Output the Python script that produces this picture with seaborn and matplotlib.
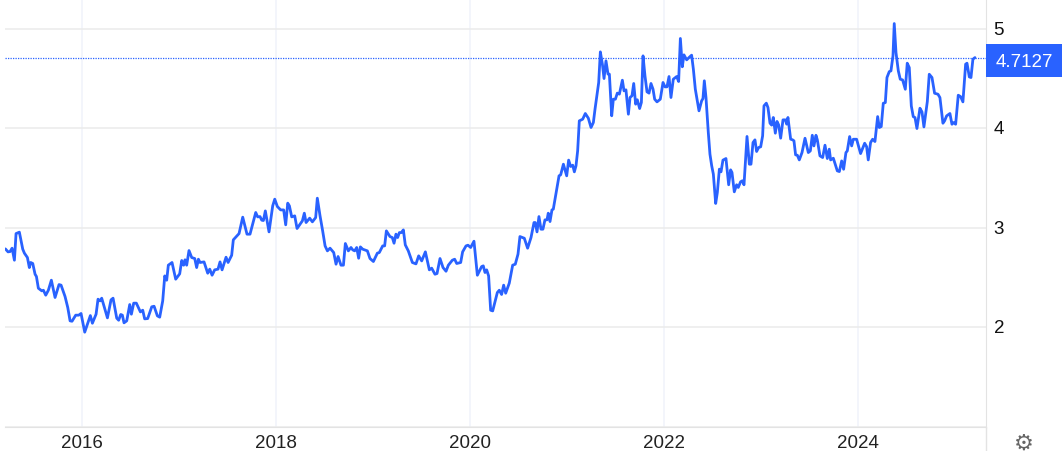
import matplotlib
matplotlib.use("Agg")
import matplotlib.pyplot as plt
from matplotlib.lines import Line2D
from matplotlib.transforms import ScaledTranslation
import pandas as pd
import seaborn as sns

sns.set_style("white")
plt.rcParams['font.family'] = ['Liberation Sans', 'DejaVu Sans']

# decimal year of each reading
years = [
    2015.210, 2015.237, 2015.258, 2015.279, 2015.303, 2015.320, 2015.354, 2015.389, 2015.406, 2015.437,
    2015.457, 2015.471, 2015.492, 2015.516, 2015.530, 2015.550, 2015.585, 2015.602, 2015.626, 2015.653,
    2015.684, 2015.722, 2015.763, 2015.784, 2015.825, 2015.853, 2015.877, 2015.897, 2015.935, 2015.966,
    2015.990, 2016.028, 2016.086, 2016.107, 2016.145, 2016.165, 2016.186, 2016.203, 2016.262, 2016.299,
    2016.320, 2016.358, 2016.378, 2016.399, 2016.416, 2016.433, 2016.461, 2016.492, 2016.509, 2016.533,
    2016.560, 2016.602, 2016.626, 2016.646, 2016.677, 2016.719, 2016.743, 2016.777, 2016.801, 2016.832,
    2016.853, 2016.873, 2016.890, 2016.928, 2016.966, 2017.007, 2017.028, 2017.048, 2017.062, 2017.079,
    2017.103, 2017.131, 2017.162, 2017.182, 2017.200, 2017.217, 2017.258, 2017.296, 2017.317, 2017.341,
    2017.368, 2017.402, 2017.423, 2017.444, 2017.485, 2017.506, 2017.543, 2017.560, 2017.619, 2017.657,
    2017.701, 2017.732, 2017.791, 2017.811, 2017.835, 2017.853, 2017.870, 2017.890, 2017.928, 2017.966,
    2017.987, 2018.014, 2018.048, 2018.079, 2018.100, 2018.121, 2018.138, 2018.162, 2018.193, 2018.217,
    2018.272, 2018.292, 2018.310, 2018.347, 2018.375, 2018.409, 2018.426, 2018.454, 2018.481, 2018.506,
    2018.530, 2018.557, 2018.595, 2018.619, 2018.640, 2018.670, 2018.695, 2018.715, 2018.746, 2018.773,
    2018.791, 2018.811, 2018.832, 2018.852, 2018.870, 2018.894, 2018.942, 2018.969, 2019.004, 2019.045,
    2019.065, 2019.100, 2019.120, 2019.138, 2019.175, 2019.199, 2019.217, 2019.237, 2019.254, 2019.272,
    2019.292, 2019.313, 2019.333, 2019.364, 2019.406, 2019.443, 2019.471, 2019.502, 2019.540, 2019.581,
    2019.605, 2019.639, 2019.660, 2019.691, 2019.722, 2019.753, 2019.777, 2019.818, 2019.842, 2019.863,
    2019.904, 2019.924, 2019.959, 2019.979, 2020.007, 2020.041, 2020.076, 2020.120, 2020.137, 2020.155,
    2020.172, 2020.192, 2020.213, 2020.234, 2020.282, 2020.302, 2020.326, 2020.347, 2020.368, 2020.405,
    2020.440, 2020.467, 2020.495, 2020.515, 2020.560, 2020.594, 2020.629, 2020.660, 2020.673, 2020.691,
    2020.711, 2020.732, 2020.752, 2020.773, 2020.794, 2020.807, 2020.825, 2020.845, 2020.859, 2020.883,
    2020.918, 2020.935, 2020.963, 2020.997, 2021.017, 2021.038, 2021.059, 2021.076, 2021.093, 2021.110,
    2021.127, 2021.162, 2021.189, 2021.220, 2021.248, 2021.272, 2021.289, 2021.313, 2021.327, 2021.344,
    2021.365, 2021.382, 2021.402, 2021.423, 2021.437, 2021.461, 2021.478, 2021.499, 2021.519, 2021.540,
    2021.571, 2021.588, 2021.608, 2021.633, 2021.650, 2021.670, 2021.688, 2021.708, 2021.725, 2021.749,
    2021.767, 2021.784, 2021.804, 2021.825, 2021.846, 2021.866, 2021.887, 2021.904, 2021.928, 2021.962,
    2021.990, 2022.011, 2022.031, 2022.052, 2022.072, 2022.096, 2022.131, 2022.151, 2022.169, 2022.189,
    2022.206, 2022.234, 2022.258, 2022.285, 2022.303, 2022.323, 2022.361, 2022.388, 2022.402, 2022.416,
    2022.433, 2022.457, 2022.474, 2022.492, 2022.509, 2022.533, 2022.550, 2022.571, 2022.588, 2022.608,
    2022.639, 2022.667, 2022.687, 2022.701, 2022.725, 2022.749, 2022.766, 2022.790, 2022.808, 2022.825,
    2022.856, 2022.880, 2022.897, 2022.918, 2022.938, 2022.955, 2022.976, 2022.997, 2023.017, 2023.031,
    2023.055, 2023.072, 2023.093, 2023.110, 2023.127, 2023.148, 2023.165, 2023.182, 2023.203, 2023.227,
    2023.251, 2023.265, 2023.278, 2023.306, 2023.326, 2023.340, 2023.357, 2023.375, 2023.395, 2023.423,
    2023.454, 2023.488, 2023.509, 2023.529, 2023.546, 2023.567, 2023.581, 2023.608, 2023.636, 2023.660,
    2023.684, 2023.704, 2023.718, 2023.746, 2023.787, 2023.808, 2023.832, 2023.852, 2023.876, 2023.890,
    2023.914, 2023.935, 2023.952, 2023.986, 2024.027, 2024.069, 2024.089, 2024.106, 2024.130, 2024.151,
    2024.175, 2024.203, 2024.220, 2024.240, 2024.261, 2024.282, 2024.299, 2024.323, 2024.340, 2024.361,
    2024.374, 2024.392, 2024.416, 2024.436, 2024.460, 2024.488, 2024.508, 2024.529, 2024.550, 2024.570,
    2024.588, 2024.608, 2024.639, 2024.660, 2024.680, 2024.715, 2024.735, 2024.763, 2024.790, 2024.825,
    2024.845, 2024.876, 2024.893, 2024.914, 2024.948, 2024.969, 2024.986, 2025.007, 2025.034, 2025.058,
    2025.082, 2025.110, 2025.124, 2025.148, 2025.165, 2025.185, 2025.206,
]
values = [
    2.788, 2.758, 2.761, 2.795, 2.674, 2.942, 2.956, 2.785, 2.745, 2.701,
    2.600, 2.651, 2.641, 2.533, 2.510, 2.392, 2.366, 2.372, 2.322, 2.372,
    2.473, 2.299, 2.429, 2.423, 2.309, 2.198, 2.064, 2.060, 2.121, 2.121,
    2.138, 1.950, 2.117, 2.040, 2.131, 2.282, 2.265, 2.292, 2.094, 2.275,
    2.292, 2.091, 2.070, 2.128, 2.121, 2.044, 2.064, 2.228, 2.131, 2.242,
    2.242, 2.154, 2.171, 2.084, 2.087, 2.205, 2.211, 2.114, 2.101, 2.265,
    2.516, 2.473, 2.624, 2.651, 2.483, 2.537, 2.671, 2.624, 2.678, 2.624,
    2.771, 2.701, 2.691, 2.600, 2.684, 2.651, 2.657, 2.543, 2.584, 2.523,
    2.577, 2.584, 2.657, 2.577, 2.704, 2.651, 2.724, 2.879, 2.942, 3.107,
    2.936, 2.936, 3.154, 3.110, 3.113, 3.077, 3.073, 3.170, 2.959, 3.221,
    3.288, 3.214, 3.180, 3.180, 3.030, 3.248, 3.221, 3.110, 3.120, 2.993,
    3.070, 3.147, 3.053, 3.097, 3.060, 3.103, 3.298, 3.120, 2.969, 2.818,
    2.768, 2.795, 2.751, 2.634, 2.711, 2.624, 2.624, 2.842, 2.768, 2.802,
    2.778, 2.768, 2.802, 2.694, 2.808, 2.785, 2.768, 2.691, 2.661, 2.745,
    2.751, 2.818, 2.818, 2.969, 2.912, 2.902, 2.845, 2.936, 2.902, 2.952,
    2.952, 2.979, 2.828, 2.768, 2.651, 2.637, 2.718, 2.667, 2.758, 2.577,
    2.594, 2.533, 2.540, 2.691, 2.600, 2.563, 2.624, 2.674, 2.684, 2.641,
    2.651, 2.758, 2.818, 2.825, 2.802, 2.865, 2.523, 2.610, 2.617, 2.550,
    2.577, 2.516, 2.171, 2.164, 2.349, 2.372, 2.329, 2.423, 2.342, 2.443,
    2.624, 2.634, 2.735, 2.912, 2.895, 2.795, 2.902, 3.053, 3.053, 2.959,
    3.113, 2.986, 2.986, 3.080, 3.080, 3.147, 3.063, 3.180, 3.188, 3.322,
    3.523, 3.533, 3.640, 3.523, 3.681, 3.617, 3.630, 3.563, 3.624, 3.775,
    4.076, 4.093, 4.150, 4.103, 4.009, 4.060, 4.194, 4.361, 4.462, 4.770,
    4.646, 4.502, 4.680, 4.546, 4.546, 4.127, 4.294, 4.294, 4.355, 4.345,
    4.485, 4.378, 4.388, 4.143, 4.311, 4.328, 4.452, 4.244, 4.288, 4.200,
    4.261, 4.730, 4.529, 4.368, 4.355, 4.452, 4.395, 4.294, 4.267, 4.294,
    4.462, 4.418, 4.418, 4.522, 4.311, 4.495, 4.522, 4.472, 4.905, 4.620,
    4.740, 4.690, 4.713, 4.737, 4.596, 4.395, 4.177, 4.277, 4.301, 4.479,
    4.311, 3.959, 3.741, 3.624, 3.540, 3.245, 3.355, 3.590, 3.563, 3.681,
    3.697, 3.433, 3.583, 3.557, 3.362, 3.433, 3.406, 3.463, 3.473, 3.433,
    3.919, 3.640, 3.640, 3.858, 3.885, 3.768, 3.808, 3.815, 3.925, 4.227,
    4.254, 4.210, 4.053, 4.033, 4.110, 3.952, 4.070, 4.036, 3.902, 4.086,
    4.086, 4.043, 4.110, 3.892, 3.885, 3.875, 3.734, 3.730, 3.683, 3.757,
    3.901, 3.757, 3.774, 3.931, 3.824, 3.931, 3.885, 3.724, 3.707, 3.831,
    3.697, 3.791, 3.683, 3.700, 3.573, 3.566, 3.673, 3.589, 3.757, 3.774,
    3.918, 3.824, 3.891, 3.891, 3.747, 3.851, 3.817, 3.683, 3.858, 3.891,
    3.868, 4.119, 4.009, 4.019, 4.253, 4.260, 4.512, 4.572, 4.579, 4.730,
    5.055, 4.763, 4.579, 4.495, 4.488, 4.394, 4.656, 4.612, 4.226, 4.119,
    4.109, 3.999, 4.203, 4.166, 4.015, 4.270, 4.545, 4.512, 4.354, 4.344,
    4.310, 4.052, 4.076, 4.126, 4.150, 4.042, 4.059, 4.042, 4.334, 4.320,
    4.267, 4.646, 4.656, 4.518, 4.512, 4.696, 4.7127,
]
x_ticks = [2016, 2018, 2020, 2022, 2024]
y_ticks = [1, 2, 3, 4, 5]
last_value = 4.7127

df = pd.DataFrame({'year': years, 'value': values})

fig = plt.figure(figsize=(10.62, 4.52), dpi=100)
ax = fig.add_axes([5 / 1062, 24.4 / 452, 981 / 1062, 427.4 / 452])

sns.lineplot(data=df, x='year', y='value', color='#2962ff', linewidth=2.0,
             estimator=None, sort=False, ax=ax, zorder=3, solid_joinstyle='round')

ax.set_xlim(2015.206, 2025.32)
ax.set_ylim(1, 5.3)
ax.set_xlabel('')
ax.set_ylabel('')

ax.set_xticks(x_ticks)
ax.set_xticklabels([str(t) for t in x_ticks])
ax.set_yticks(y_ticks)
ax.set_yticklabels(['', '2', '3', '4', '5'])
ax.yaxis.tick_right()
ax.tick_params(axis='x', length=0, pad=5.5, labelsize=13.5, labelcolor='#222222')
ax.tick_params(axis='y', length=0, pad=5.5, labelsize=13.5, labelcolor='#111111')

# right-hand labels sit a little above their gridlines
for lab in ax.get_yticklabels():
    lab.set_transform(lab.get_transform() + ScaledTranslation(0, 1.5 / 100, fig.dpi_scale_trans))

ax.grid(axis='y', color='#ebebeb', linewidth=1.1)
ax.grid(axis='x', color='#f0f3fa', linewidth=1.1)
ax.set_axisbelow(True)

for side in ['top', 'left']:
    ax.spines[side].set_visible(False)
ax.spines['bottom'].set_color('#e3e3e3')
ax.spines['right'].set_color('#e3e3e3')
fig.add_artist(Line2D([986 / 1062, 986 / 1062], [0, 24 / 452], color='#e3e3e3', linewidth=1.0))

# last value marker, the box hangs a little below the dotted line
ax.axhline(last_value, color='#2962ff', linewidth=0.9, linestyle=(0, (1, 1)), zorder=2)
ax.add_patch(plt.Rectangle((1, 4.52), 76 / 981, 0.33, transform=ax.get_yaxis_transform(),
                           facecolor='#2962ff', edgecolor='none', clip_on=False, zorder=4))
ax.annotate(f'{last_value}', xy=(1, last_value), xycoords=('axes fraction', 'data'),
            xytext=(38, -3.5), textcoords='offset pixels', ha='center', va='center',
            color='white', fontsize=13.5, zorder=5, annotation_clip=False)

# settings icon
fig.text(1024 / 1062, 8.5 / 452, '\u2699', ha='center', va='center', fontsize=16, color='#666666',
         family='DejaVu Sans')

fig.savefig('out.png', dpi=100)
